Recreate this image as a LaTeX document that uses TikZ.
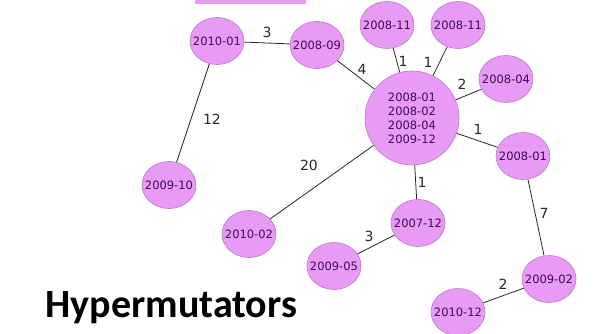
\documentclass[tikz,border=0pt]{standalone}
\usepackage{fontspec}
\setmainfont{DejaVu Sans}
\newfontfamily\titlefont{Carlito}
\usetikzlibrary{shapes.geometric}

\definecolor{nodefill}{RGB}{232,155,244}
\definecolor{nodeline}{RGB}{188,120,200}
\definecolor{nodetext}{RGB}{62,10,84}
\definecolor{edgeline}{RGB}{40,40,40}

\begin{document}
\begin{tikzpicture}[x=1pt,y=-1pt]
		\tikzstyle {sample} = [ellipse, draw=nodeline, fill=nodefill, line width=0.6pt,
		  minimum width=54pt, minimum height=47pt, inner xsep=-6pt, inner ysep=0pt,
		  text=nodetext, font=\fontsize{11.5}{14}\selectfont]
		\tikzstyle {hub} = [circle, draw=nodeline, fill=nodefill, line width=0.6pt,
		  minimum size=94pt, inner sep=0pt, align=center,
		  text=nodetext, font=\fontsize{11.5}{14}\selectfont]
		\tikzstyle {link} = [draw=edgeline, line width=0.8pt]
		\tikzstyle {weight} = [text=edgeline, font=\fontsize{14}{16}\selectfont, inner sep=0pt]

		\useasboundingbox (0,0) rectangle (595,334);

		% strip at the top
		\fill[nodefill] (195,0) rectangle (306,4);

		% nodes
		\node[hub] (hub) at (412,118) {2008-01\\2008-02\\2008-04\\2009-12};
		\node[sample] (jan10) at (217,41) {2010-01};
		\node[sample] (sep08) at (317,45) {2008-09};
		\node[sample] (nov08a) at (387,25) {2008-11};
		\node[sample] (nov08b) at (458,25) {2008-11};
		\node[sample] (apr08) at (506,79) {2008-04};
		\node[sample] (jan08) at (523,156) {2008-01};
		\node[sample] (oct09) at (169,185) {2009-10};
		\node[sample] (feb10) at (249,234) {2010-02};
		\node[sample] (dec07) at (418,223) {2007-12};
		\node[sample] (may09) at (334,266) {2009-05};
		\node[sample] (feb09) at (549,279) {2009-02};
		\node[sample] (dec10) at (458,312) {2010-12};

		% edges
		\foreach \a/\b in {jan10/sep08, jan10/oct09, sep08/hub, nov08a/hub, nov08b/hub,
		                   apr08/hub, jan08/hub, feb10/hub, dec07/hub, dec07/may09,
		                   jan08/feb09, feb09/dec10}
		{
			\draw[link] (\a) -- (\b);
		}

		% weights
		\foreach \x/\y/\w [count=\i] in {267/32/3, 212/119/12, 362/69/4, 403/61/1, 428/62/1,
		                                 462/84/2, 478/129/1, 309/165/20, 422/182/1,
		                                 369/236/3, 544/213/7, 503/284/2}
		{
			\node[weight] (w\i) at (\x,\y) {\w};
		}

		\node[anchor=base west, font=\titlefont\bfseries\fontsize{40}{44}\selectfont] (title)
		  at (42,317) {Hypermutators};
	\end{tikzpicture}
\end{document}
